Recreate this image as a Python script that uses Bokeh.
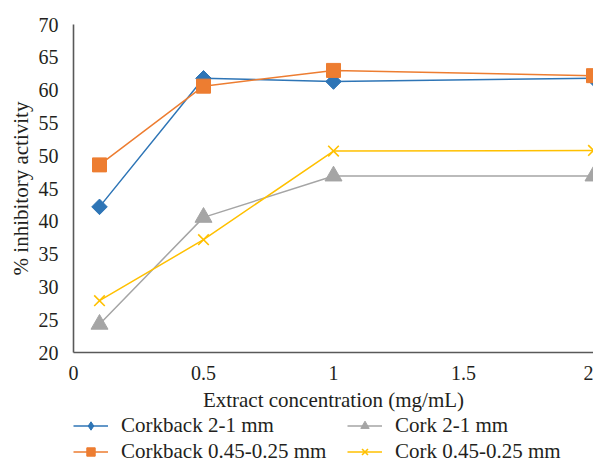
import numpy as np
from bokeh.plotting import figure
from bokeh.layouts import column
from bokeh.models import Range1d, FixedTicker, Legend, LegendItem
from bokeh.embed import file_html
from bokeh.resources import INLINE

x_vals = [0.1, 0.5, 1.0, 2.0]
corkback_2_1 = [42.2, 61.8, 61.3, 61.8]
corkback_045_025 = [48.6, 60.6, 63.0, 62.2]
cork_2_1 = [24.3, 40.6, 46.9, 46.9]
cork_045_025 = [27.9, 37.2, 50.7, 50.8]

series_names = ["Corkback 2-1 mm", "Corkback 0.45-0.25 mm", "Cork 2-1 mm", "Cork 0.45-0.25 mm"]
series_colors = ["#2E75B6", "#ED7D31", "#A5A5A5", "#FFC000"]

x_ticks = [0, 0.5, 1, 1.5, 2]
x_tick_labels = ["0", "0.5", "1", "1.5", "2"]
y_ticks = [20, 25, 30, 35, 40, 45, 50, 55, 60, 65, 70]
y_tick_labels = ["20", "25", "30", "35", "40", "45", "50", "55", "60", "65", "70"]

FONT = "Liberation Serif"
TXT = "#231F20"
AX = "#595959"

p = figure(width=593, height=414, output_backend="svg", toolbar_location=None,
           x_range=Range1d(0, 2), y_range=Range1d(20, 70),
           min_border_left=73, min_border_right=0, min_border_top=24, min_border_bottom=60)
p.outline_line_color = None
p.xgrid.grid_line_color = None
p.ygrid.grid_line_color = None

for ax, ticks, labels in ((p.xaxis[0], x_ticks, x_tick_labels), (p.yaxis[0], y_ticks, y_tick_labels)):
    ax.ticker = FixedTicker(ticks=ticks)
    ax.major_label_overrides = {t: l for t, l in zip(ticks, labels)}
    ax.major_tick_line_color = None
    ax.minor_tick_line_color = None
    ax.axis_line_color = AX
    ax.axis_line_width = 1.6
    ax.major_label_text_font = FONT
    ax.major_label_text_font_size = "20px"
    ax.major_label_text_color = TXT
    ax.axis_label_text_font = FONT
    ax.axis_label_text_font_size = "21px"
    ax.axis_label_text_font_style = "normal"
    ax.axis_label_text_color = TXT

p.xaxis.axis_label = "Extract concentration (mg/mL)"
p.yaxis.axis_label = "% inhibitory activity"
p.xaxis.major_label_standoff = 7
p.xaxis.axis_label_standoff = 5
p.yaxis.major_label_standoff = 9
p.yaxis.axis_label_standoff = 3

plot_markers = ["diamond", "square", "triangle", "x"]
plot_sizes = [11, 14, 17, 15]
legend_markers = ["bokeh_diamond", "square", "triangle", "x"]
legend_sizes = [13, 11, 12, 11]


def add_series(fig, xs, ys, color, marker, size):
    ln = fig.line(xs, ys, line_color=color, line_width=1.5)
    if marker == "diamond":
        sc = fig.scatter(xs, ys, marker="square", angle=np.pi / 4, size=size,
                         fill_color=color, line_color=color)
    elif marker == "bokeh_diamond":
        sc = fig.scatter(xs, ys, marker="diamond", size=size,
                         fill_color=color, line_color=color)
    elif marker == "x":
        sc = fig.scatter(xs, ys, marker="x", size=size, line_width=1.6, line_color=color)
    else:
        sc = fig.scatter(xs, ys, marker=marker, size=size, fill_color=color, line_color=color)
    return ln, sc


all_values = [corkback_2_1, corkback_045_025, cork_2_1, cork_045_025]
for ys, c, m, s in zip(all_values, series_colors, plot_markers, plot_sizes):
    add_series(p, x_vals, ys, c, m, s)

# legend strip below the chart (its data range lies outside this strip's view)
lg = figure(width=593, height=50, output_backend="svg", toolbar_location=None,
            x_range=Range1d(0, 1), y_range=Range1d(0, 1),
            x_axis_location=None, y_axis_location=None,
            min_border_left=73, min_border_right=0, min_border_top=0, min_border_bottom=0)
lg.outline_line_color = None
lg.xgrid.grid_line_color = None
lg.ygrid.grid_line_color = None

items = []
for name, ys, c, m, s in zip(series_names, all_values, series_colors, legend_markers, legend_sizes):
    ln, sc = add_series(lg, x_vals, ys, c, m, s)
    items.append(LegendItem(label=name, renderers=[ln, sc]))

common = dict(label_text_font=FONT, label_text_font_size="21px", label_text_color=TXT,
              glyph_width=35, glyph_height=21, label_height=21, label_standoff=13,
              spacing=1, padding=0, margin=0, border_line_color=None,
              background_fill_alpha=0)
leg1 = Legend(items=items[:2], location=(0, 0), **common)
leg2 = Legend(items=items[2:], location=(274, 0), **common)
lg.add_layout(leg1, "center")
lg.add_layout(leg2, "center")

open("out.html", "w").write(file_html(column(p, lg, spacing=0), INLINE))
